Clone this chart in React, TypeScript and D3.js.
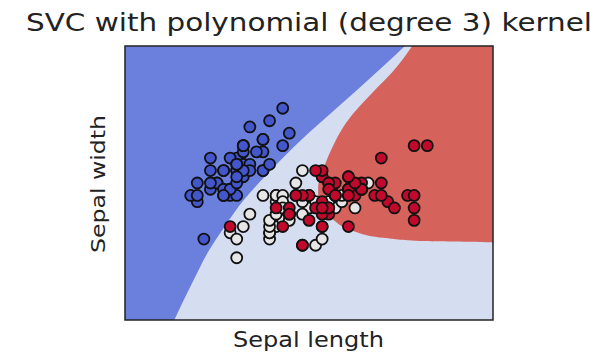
import { useEffect, useRef } from "react";
import * as d3 from "d3";

// iris sepal length / sepal width, by class
const setosaLength = [5.1,4.9,4.7,4.6,5.0,5.4,4.6,5.0,4.4,4.9,5.4,4.8,4.8,4.3,5.8,5.7,5.4,5.1,5.7,5.1,5.4,5.1,4.6,5.1,4.8,5.0,5.0,5.2,5.2,4.7,4.8,5.4,5.2,5.5,4.9,5.0,5.5,4.9,4.4,5.1,5.0,4.5,4.4,5.0,5.1,4.8,5.1,4.6,5.3,5.0];
const setosaWidth = [3.5,3.0,3.2,3.1,3.6,3.9,3.4,3.4,2.9,3.1,3.7,3.4,3.0,3.0,4.0,4.4,3.9,3.5,3.8,3.8,3.4,3.7,3.6,3.3,3.4,3.0,3.4,3.5,3.4,3.2,3.1,3.4,4.1,4.2,3.1,3.2,3.5,3.6,3.0,3.4,3.5,2.3,3.2,3.5,3.8,3.0,3.8,3.2,3.7,3.3];
const versicolorLength = [7.0,6.4,6.9,5.5,6.5,5.7,6.3,4.9,6.6,5.2,5.0,5.9,6.0,6.1,5.6,6.7,5.6,5.8,6.2,5.6,5.9,6.1,6.3,6.1,6.4,6.6,6.8,6.7,6.0,5.7,5.5,5.5,5.8,6.0,5.4,6.0,6.7,6.3,5.6,5.5,5.5,6.1,5.8,5.0,5.6,5.7,5.7,6.2,5.1,5.7];
const versicolorWidth = [3.2,3.2,3.1,2.3,2.8,2.8,3.3,2.4,2.9,2.7,2.0,3.0,2.2,2.9,2.9,3.1,3.0,2.7,2.2,2.5,3.2,2.8,2.5,2.8,2.9,3.0,2.8,3.0,2.9,2.6,2.4,2.4,2.7,2.7,3.0,3.4,3.1,2.3,3.0,2.5,2.6,3.0,2.6,2.3,2.7,3.0,2.9,2.9,2.5,2.8];
const virginicaLength = [6.3,5.8,7.1,6.3,6.5,7.6,4.9,7.3,6.7,7.2,6.5,6.4,6.8,5.7,5.8,6.4,6.5,7.7,7.7,6.0,6.9,5.6,7.7,6.3,6.7,7.2,6.2,6.1,6.4,7.2,7.4,7.9,6.4,6.3,6.1,7.7,6.3,6.4,6.0,6.9,6.7,6.9,5.8,6.8,6.7,6.7,6.3,6.5,6.2,5.9];
const virginicaWidth = [3.3,2.7,3.0,2.9,3.0,3.0,2.5,2.9,2.5,3.6,3.2,2.7,3.0,2.5,2.8,3.2,3.0,3.8,2.6,2.2,3.2,2.8,2.8,2.7,3.3,3.2,2.8,3.0,2.8,3.0,2.8,3.8,2.8,2.8,2.6,3.0,3.4,3.1,3.0,3.1,3.1,3.1,2.7,3.2,3.3,3.0,2.5,3.0,3.4,3.0];

// decision boundaries (sepal length, sepal width), top to bottom
const blueEdgeX = [7.56, 7.12, 6.54, 5.98, 5.48, 5.11, 4.81, 4.58, 4.32, 4.05];
const blueEdgeY = [5.4, 4.97, 4.42, 3.89, 3.36, 2.93, 2.49, 2.12, 1.59, 1.0];
const redEdgeX = [7.67, 7.36, 7.10, 6.86, 6.66, 6.51, 6.39, 6.30, 6.24, 6.24, 6.30, 6.47, 6.77, 7.23, 7.79, 8.9];
const redEdgeY = [5.4, 4.97, 4.69, 4.42, 4.16, 3.89, 3.62, 3.36, 3.14, 2.98, 2.80, 2.61, 2.43, 2.32, 2.27, 2.25];

const xDomain = [3.3, 8.9];
const yDomain = [1.0, 5.4];

const classColors = ["#4356cc", "#e6e6e6", "#c2092c"];
const regionColors = ["#6a80dc", "#d5ddf0", "#d6625c"];

export default function App() {
  const svgRef = useRef<SVGSVGElement>(null);

  useEffect(() => {
    const width = 601, height = 355;
    const left = 125, right = 493, top = 46, bottom = 320;

    const x = d3.scaleLinear().domain(xDomain).range([left, right]);
    const y = d3.scaleLinear().domain(yDomain).range([bottom, top]);

    const svg = d3.select(svgRef.current).attr("width", width).attr("height", height);
    svg.selectAll("*").remove();

    svg.append("clipPath").attr("id", "plot-clip")
      .append("rect").attr("x", left).attr("y", top)
      .attr("width", right - left).attr("height", bottom - top);

    const g = svg.append("g").attr("clip-path", "url(#plot-clip)");

    // middle class background
    g.append("rect").attr("x", left).attr("y", top)
      .attr("width", right - left).attr("height", bottom - top)
      .attr("fill", regionColors[1]);

    const edge = d3.line<[number, number]>()
      .x((d) => x(d[0])).y((d) => y(d[1]))
      .curve(d3.curveMonotoneY);

    const bluePts: [number, number][] = blueEdgeX.map((v, i) => [v, blueEdgeY[i]]);
    g.append("path")
      .attr("d", edge(bluePts) + `L${x(xDomain[0]) - 2},${y(yDomain[0]) + 2}L${x(xDomain[0]) - 2},${y(yDomain[1]) - 2}Z`)
      .attr("fill", regionColors[0]);

    const redPts: [number, number][] = redEdgeX.map((v, i) => [v, redEdgeY[i]]);
    g.append("path")
      .attr("d", edge(redPts) + `L${x(xDomain[1]) + 2},${y(redEdgeY[redEdgeY.length - 1])}L${x(xDomain[1]) + 2},${y(yDomain[1]) - 2}Z`)
      .attr("fill", regionColors[2]);

    const groups = [
      [setosaLength, setosaWidth],
      [versicolorLength, versicolorWidth],
      [virginicaLength, virginicaWidth],
    ];
    groups.forEach(([xs, ys], k) => {
      g.append("g").selectAll("circle")
        .data(xs.map((v, i) => [v, ys[i]]))
        .join("circle")
        .attr("cx", (d) => x(d[0]))
        .attr("cy", (d) => y(d[1]))
        .attr("r", 5.5)
        .attr("fill", classColors[k])
        .attr("stroke", "#111")
        .attr("stroke-width", 1.8);
    });

    // frame
    svg.append("rect").attr("x", left).attr("y", top)
      .attr("width", right - left).attr("height", bottom - top)
      .attr("fill", "none").attr("stroke", "#222").attr("stroke-width", 1.5);

    const font = "DejaVu Sans, sans-serif";
    svg.append("text").attr("x", 309).attr("y", 31)
      .attr("text-anchor", "middle").attr("font-family", font)
      .attr("font-size", 25).attr("fill", "#222")
      .attr("textLength", 566).attr("lengthAdjust", "spacingAndGlyphs")
      .text("SVC with polynomial (degree 3) kernel");

    svg.append("text").attr("x", 308.5).attr("y", 347)
      .attr("text-anchor", "middle").attr("font-family", font)
      .attr("font-size", 21).attr("fill", "#222")
      .attr("textLength", 151).attr("lengthAdjust", "spacingAndGlyphs")
      .text("Sepal length");

    svg.append("text")
      .attr("transform", `translate(105,184) rotate(-90)`)
      .attr("text-anchor", "middle").attr("font-family", font)
      .attr("font-size", 20).attr("fill", "#222")
      .attr("textLength", 138).attr("lengthAdjust", "spacingAndGlyphs")
      .text("Sepal width");
  }, []);

  return (
    <div style={{ position: "absolute", left: 0, top: 0 }}>
      <svg ref={svgRef}></svg>
    </div>
  );
}
